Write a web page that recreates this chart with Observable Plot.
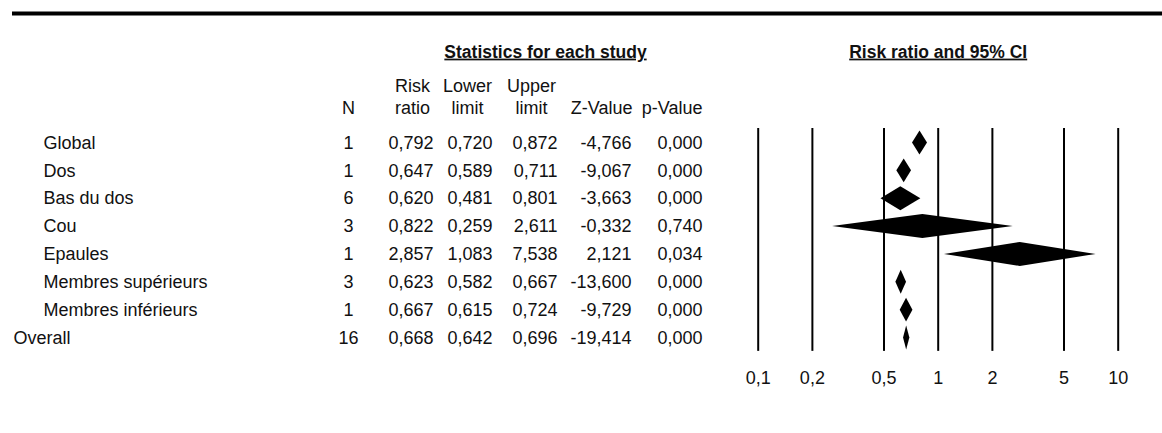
<!DOCTYPE html>
<html>
<head>
<meta charset="utf-8">
<script src="https://cdn.jsdelivr.net/npm/d3@7"></script>
<script src="https://cdn.jsdelivr.net/npm/@observablehq/plot@0.6"></script>
<style>
  html, body { margin: 0; padding: 0; background: #fff; }
</style>
</head>
<body>
<div id="chart"></div>
<script>
const names = ["Global", "Dos", "Bas du dos", "Cou", "Epaules", "Membres supérieurs", "Membres inférieurs", "Overall"];
const nStudies = [1, 1, 6, 3, 1, 3, 1, 16];
const riskRatio = [0.792, 0.647, 0.620, 0.822, 2.857, 0.623, 0.667, 0.668];
const lowerLimit = [0.720, 0.589, 0.481, 0.259, 1.083, 0.582, 0.615, 0.642];
const upperLimit = [0.872, 0.711, 0.801, 2.611, 7.538, 0.667, 0.724, 0.696];
const zValue = [-4.766, -9.067, -3.663, -0.332, 2.121, -13.600, -9.729, -19.414];
const pValue = [0.000, 0.000, 0.000, 0.740, 0.034, 0.000, 0.000, 0.000];
const tickValues = [0.1, 0.2, 0.5, 1, 2, 5, 10];
const tickLabels = ["0,1", "0,2", "0,5", "1", "2", "5", "10"];
const groupTitle = "Statistics for each study";
const plotTitle = "Risk ratio and 95% CI";
const headerLine1 = ["Risk", "Lower", "Upper"];
const headerLine2 = ["N", "ratio", "limit", "limit", "Z-Value", "p-Value"];

const rows = names.map((name, i) => ({
  i, name, n: nStudies[i], rr: riskRatio[i], lo: lowerLimit[i], hi: upperLimit[i],
  z: zValue[i], p: pValue[i], overall: name === "Overall"
}));

const fmt = v => v.toFixed(3).replace(".", ",");

const diamond = rows.flatMap(r => [
  {name: r.name, y: r.i - 0.43, x1: r.rr, x2: r.rr},
  {name: r.name, y: r.i, x1: r.lo, x2: r.hi},
  {name: r.name, y: r.i + 0.43, x1: r.rr, x2: r.rr}
]);

const ML = 12;
const FONT = '"Liberation Sans", Arial, Helvetica, sans-serif';

function hdr(label, x, y, anchor) {
  return Plot.text([label], {
    text: d => d, frameAnchor: "top-left", dx: x - ML, dy: y,
    textAnchor: anchor, lineAnchor: "middle", fontSize: 18, fill: "#111"
  });
}

function col(accessor, x, anchor, filter) {
  return Plot.text(rows, {
    y: "i", text: accessor, frameAnchor: "left", dx: x - ML,
    textAnchor: anchor, fontSize: 18, fill: "#111", filter
  });
}

const chart = Plot.plot({
  width: 1162,
  height: 433,
  marginTop: 0,
  marginLeft: ML,
  marginRight: 0,
  marginBottom: 82,
  style: {fontFamily: FONT, fontSize: "18px", background: "#fff", color: "#000"},
  x: {type: "log", domain: [0.1, 10], range: [757.7, 1117.7]},
  y: {type: "linear", domain: [0, 7], range: [142.5, 337.5], axis: null},
  marks: [
    // top thick rule
    Plot.ruleY([-4.65], {stroke: "#000", strokeWidth: 4}),
    // group titles
    Plot.text([groupTitle], {text: d => d, frameAnchor: "top-left", dx: 545 - ML, dy: 51.5,
      textAnchor: "middle", lineAnchor: "middle", fontSize: 17.5, fontWeight: "bold", fill: "#111"}),
    Plot.text([plotTitle], {x: () => 1, text: d => d, frameAnchor: "top", dy: 51.5,
      textAnchor: "middle", lineAnchor: "middle", fontSize: 17.5, fontWeight: "bold", fill: "#111"}),
    // column headers
    hdr(headerLine1[0], 412, 85.7, "middle"),
    hdr(headerLine1[1], 467, 85.7, "middle"),
    hdr(headerLine1[2], 531, 85.7, "middle"),
    hdr(headerLine2[0], 348, 107.4, "middle"),
    hdr(headerLine2[1], 412, 107.4, "middle"),
    hdr(headerLine2[2], 467, 107.4, "middle"),
    hdr(headerLine2[3], 531, 107.4, "middle"),
    hdr(headerLine2[4], 632, 107.4, "end"),
    hdr(headerLine2[5], 702, 107.4, "end"),
    // table body
    col("name", 43, "start", d => !d.overall),
    col("name", 13, "start", d => d.overall),
    col("n", 348, "middle"),
    col(d => fmt(d.rr), 433, "end"),
    col(d => fmt(d.lo), 492, "end"),
    col(d => fmt(d.hi), 557, "end"),
    col(d => fmt(d.z), 631, "end"),
    col(d => fmt(d.p), 702, "end"),
    // vertical reference lines
    Plot.ruleX(tickValues, {y1: -0.52, y2: 7.48, stroke: "#000", strokeWidth: 2}),
    // diamonds
    Plot.areaX(diamond, {y: "y", x1: "x1", x2: "x2", z: "name", fill: "#000", curve: "linear"}),
    // x axis labels
    Plot.axisX({
      ticks: tickValues,
      tickFormat: d => tickLabels[tickValues.indexOf(d)],
      tickSize: 0, tickPadding: 20, fontSize: 18, label: null, anchor: "bottom", fill: "#111"
    })
  ]
});

chart.querySelectorAll('g[font-weight="bold"] text').forEach(t => t.setAttribute("text-decoration", "underline"));
document.getElementById("chart").appendChild(chart);
</script>
</body>
</html>
